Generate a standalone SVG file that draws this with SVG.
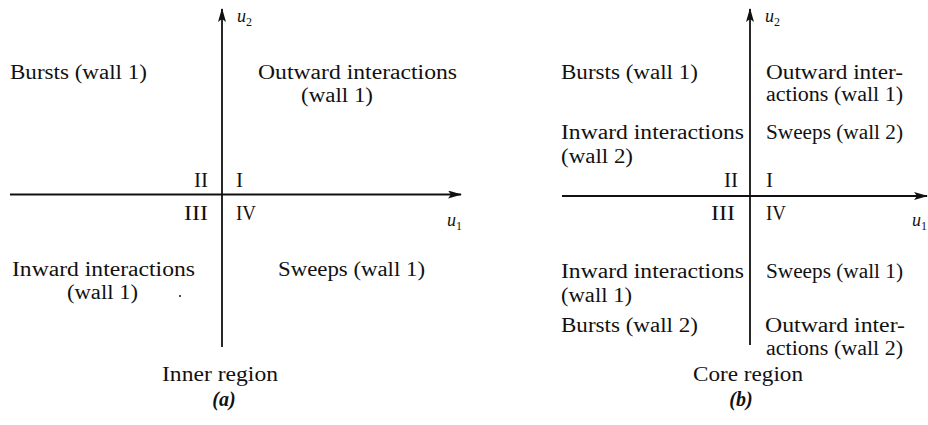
<svg xmlns="http://www.w3.org/2000/svg" width="928" height="425" viewBox="0 0 928 425">
<style>
text{font-family:"Liberation Serif","Times New Roman",serif;font-size:20px;fill:#111}
.ax{stroke:#111;stroke-width:1.8;fill:none}
.it{font-style:italic;font-size:18px}
.sub{font-size:12px;font-style:normal}
.cap{font-weight:bold;font-style:italic}
</style>
<defs>
<marker id="arr" viewBox="0 0 14 8" refX="13" refY="4" markerWidth="14" markerHeight="8" markerUnits="userSpaceOnUse" orient="auto">
<path d="M0,0 L14,4 L0,8 L3,4 Z" fill="#111"/>
</marker>
</defs>
<g id="connectors">
<line class="ax" x1="222" y1="347" x2="222" y2="9" marker-end="url(#arr)"/>
<line class="ax" x1="10" y1="194.5" x2="461" y2="194.5" marker-end="url(#arr)"/>
<line class="ax" x1="750" y1="345" x2="750" y2="9" marker-end="url(#arr)"/>
<line class="ax" x1="562" y1="196" x2="927" y2="196" marker-end="url(#arr)"/>
</g>
<g id="panel-a">
<g id="a-axis-labels">
<text class="it" x="237" y="22">u<tspan class="sub" dy="4">2</tspan></text>
<text class="it" x="447" y="226">u<tspan class="sub" dy="4">1</tspan></text>
<text x="194" y="187" textLength="14" lengthAdjust="spacingAndGlyphs">II</text>
<text x="236" y="187" textLength="7" lengthAdjust="spacingAndGlyphs">I</text>
<text x="184" y="220" textLength="24" lengthAdjust="spacingAndGlyphs">III</text>
<text x="236" y="220" textLength="20" lengthAdjust="spacingAndGlyphs">IV</text>
</g>
<g id="a-q2"><text x="10" y="79" textLength="137" lengthAdjust="spacingAndGlyphs">Bursts (wall 1)</text></g>
<g id="a-q1">
<text x="258" y="79" textLength="199" lengthAdjust="spacingAndGlyphs">Outward interactions</text>
<text x="301" y="102" textLength="72" lengthAdjust="spacingAndGlyphs">(wall 1)</text>
</g>
<g id="a-q3">
<text x="12" y="276" textLength="183" lengthAdjust="spacingAndGlyphs">Inward interactions</text>
<text x="67" y="299" textLength="71" lengthAdjust="spacingAndGlyphs">(wall 1)</text>
<circle cx="180" cy="296" r="1" fill="#111"/>
</g>
<g id="a-q4"><text x="278" y="276" textLength="147" lengthAdjust="spacingAndGlyphs">Sweeps (wall 1)</text></g>
<g id="a-caption">
<text x="162" y="381" textLength="116" lengthAdjust="spacingAndGlyphs">Inner region</text>
<text class="cap" x="224" y="406" text-anchor="middle">(a)</text>
</g>
</g>
<g id="panel-b">
<g id="b-axis-labels">
<text class="it" x="765" y="22">u<tspan class="sub" dy="4">2</tspan></text>
<text class="it" x="912" y="226">u<tspan class="sub" dy="4">1</tspan></text>
<text x="724" y="187" textLength="14" lengthAdjust="spacingAndGlyphs">II</text>
<text x="766" y="187" textLength="7" lengthAdjust="spacingAndGlyphs">I</text>
<text x="711" y="220" textLength="24" lengthAdjust="spacingAndGlyphs">III</text>
<text x="766" y="220" textLength="20" lengthAdjust="spacingAndGlyphs">IV</text>
</g>
<g id="b-q2">
<text x="561" y="79" textLength="137" lengthAdjust="spacingAndGlyphs">Bursts (wall 1)</text>
<text x="561" y="139" textLength="183" lengthAdjust="spacingAndGlyphs">Inward interactions</text>
<text x="561" y="163" textLength="72" lengthAdjust="spacingAndGlyphs">(wall 2)</text>
</g>
<g id="b-q1">
<text x="766" y="79" textLength="137" lengthAdjust="spacingAndGlyphs">Outward inter-</text>
<text x="766" y="101" textLength="137" lengthAdjust="spacingAndGlyphs">actions (wall 1)</text>
<text x="766" y="139" textLength="137" lengthAdjust="spacingAndGlyphs">Sweeps (wall 2)</text>
</g>
<g id="b-q3">
<text x="561" y="278" textLength="183" lengthAdjust="spacingAndGlyphs">Inward interactions</text>
<text x="561" y="302" textLength="71" lengthAdjust="spacingAndGlyphs">(wall 1)</text>
<text x="561" y="332" textLength="137" lengthAdjust="spacingAndGlyphs">Bursts (wall 2)</text>
</g>
<g id="b-q4">
<text x="766" y="278" textLength="137" lengthAdjust="spacingAndGlyphs">Sweeps (wall 1)</text>
<text x="765" y="332" textLength="140" lengthAdjust="spacingAndGlyphs">Outward inter-</text>
<text x="766" y="355" textLength="137" lengthAdjust="spacingAndGlyphs">actions (wall 2)</text>
</g>
<g id="b-caption">
<text x="693" y="381" textLength="110" lengthAdjust="spacingAndGlyphs">Core region</text>
<text class="cap" x="741" y="406" text-anchor="middle">(b)</text>
</g>
</g>
</svg>
